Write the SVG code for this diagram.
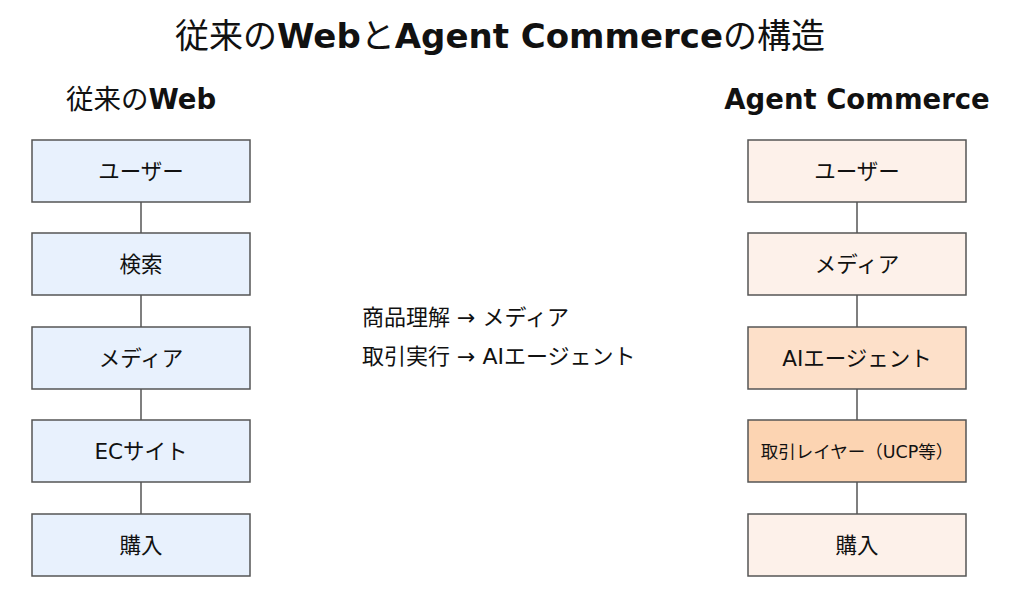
<svg xmlns="http://www.w3.org/2000/svg" width="1024" height="602" viewBox="0 0 1024 602">
<style>
text{font-family:"DejaVu Sans","Noto Sans CJK JP",sans-serif;fill:#111}
.title{font-size:34px}
.sub{font-size:27.5px}
.b{font-weight:bold}
.lbl{font-size:21.5px;text-anchor:middle}
.note{font-size:22px}
.box{stroke:#555;stroke-width:1.5}
.web{fill:#e8f1fd}
.ac{fill:#fdf1ea}
.ai{fill:#fde0c9}
.tx{fill:#fcd4b2}
.con line{stroke:#555;stroke-width:1.5}
</style>
<rect width="1024" height="602" fill="#fff"/>
<text class="title" x="500" y="48" text-anchor="middle">従来の<tspan class="b">Web</tspan>と<tspan class="b">Agent Commerce</tspan>の構造</text>
<text class="sub" x="141" y="109" text-anchor="middle">従来の<tspan class="b">Web</tspan></text>
<text class="sub b" x="857" y="109" text-anchor="middle">Agent Commerce</text>
<g class="con">
<line x1="141" y1="202" x2="141" y2="233"/>
<line x1="141" y1="295" x2="141" y2="327"/>
<line x1="141" y1="389" x2="141" y2="420"/>
<line x1="141" y1="482" x2="141" y2="514"/>
<line x1="857" y1="202" x2="857" y2="233"/>
<line x1="857" y1="295" x2="857" y2="327"/>
<line x1="857" y1="389" x2="857" y2="420"/>
<line x1="857" y1="482" x2="857" y2="514"/>
</g>
<g id="w1"><rect class="box web" x="32" y="140" width="218" height="62"/><text class="lbl" x="141" y="179">ユーザー</text></g>
<g id="w2"><rect class="box web" x="32" y="233" width="218" height="62"/><text class="lbl" x="141" y="272">検索</text></g>
<g id="w3"><rect class="box web" x="32" y="327" width="218" height="62"/><text class="lbl" x="141" y="366">メディア</text></g>
<g id="w4"><rect class="box web" x="32" y="420" width="218" height="62"/><text class="lbl" x="141" y="459">ECサイト</text></g>
<g id="w5"><rect class="box web" x="32" y="514" width="218" height="62"/><text class="lbl" x="141" y="553">購入</text></g>
<g id="a1"><rect class="box ac" x="748" y="140" width="218" height="62"/><text class="lbl" x="857" y="179">ユーザー</text></g>
<g id="a2"><rect class="box ac" x="748" y="233" width="218" height="62"/><text class="lbl" x="857" y="272">メディア</text></g>
<g id="a3"><rect class="box ai" x="748" y="327" width="218" height="62"/><text class="lbl" x="857" y="366">AIエージェント</text></g>
<g id="a4"><rect class="box tx" x="748" y="420" width="218" height="62"/><text class="lbl" x="857" y="458" style="font-size:17.5px">取引レイヤー（UCP等）</text></g>
<g id="a5"><rect class="box ac" x="748" y="514" width="218" height="62"/><text class="lbl" x="857" y="553">購入</text></g>
<g id="notes">
<text class="note" x="362" y="325">商品理解 → メディア</text>
<text class="note" x="362" y="364">取引実行 → AIエージェント</text>
</g>
</svg>
